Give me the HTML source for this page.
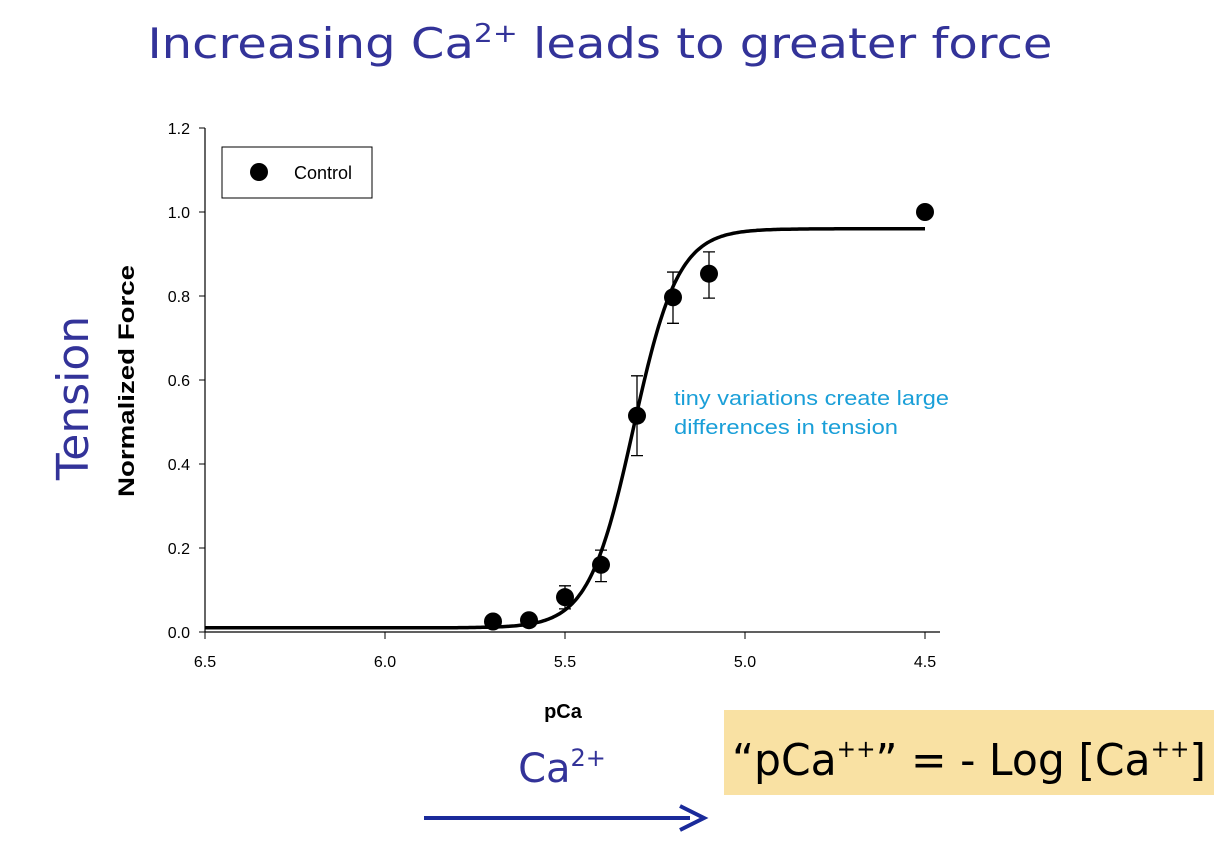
<!DOCTYPE html>
<html><head><meta charset="utf-8"><style>
html,body{margin:0;padding:0;background:#fff;width:1226px;height:848px;overflow:hidden}
svg{display:block}
</style></head><body>
<svg id="chart" width="1226" height="848" xmlns="http://www.w3.org/2000/svg">
<text x="600" y="58" text-anchor="middle" font-family="DejaVu Sans, sans-serif" font-size="42" fill="#333399" textLength="905" lengthAdjust="spacingAndGlyphs">Increasing Ca<tspan font-size="26" dy="-16">2+</tspan><tspan dy="16"> leads to greater force</tspan></text>
<text transform="translate(88,398) rotate(-90)" text-anchor="middle" font-family="DejaVu Sans, sans-serif" font-size="44" fill="#333399">Tension</text>
<g id="plot"></g>
<text transform="translate(134,381) rotate(-90)" text-anchor="middle" font-family="Liberation Sans, sans-serif" font-weight="bold" font-size="22" textLength="232" lengthAdjust="spacingAndGlyphs">Normalized Force</text>
<text x="563" y="718" text-anchor="middle" font-family="Liberation Sans, sans-serif" font-weight="bold" font-size="20">pCa</text>
<g>
<rect x="222" y="147" width="150" height="51" fill="#fff" stroke="#000" stroke-width="1"/>
<circle cx="259" cy="172" r="9" fill="#000"/>
<text x="294" y="179" font-family="Liberation Sans, sans-serif" font-size="18">Control</text>
</g>
<text font-family="Liberation Sans, sans-serif" font-size="20" fill="#1a9fd8"><tspan x="674" y="405" textLength="275" lengthAdjust="spacingAndGlyphs">tiny variations create large</tspan><tspan x="674" y="434" textLength="224" lengthAdjust="spacingAndGlyphs">differences in tension</tspan></text>
<text x="562" y="782" text-anchor="middle" font-family="DejaVu Sans, sans-serif" font-size="40" fill="#333399">Ca<tspan font-size="24" dy="-16">2+</tspan></text>
<line x1="424" y1="818" x2="690" y2="818" stroke="#1a2a9a" stroke-width="4"/>
<path d="M680,806 L704,818 L680,830" fill="none" stroke="#1a2a9a" stroke-width="4"/>
<rect x="724" y="710" width="490" height="85" fill="#f9e1a3"/>
<text x="732" y="775" font-family="DejaVu Sans, sans-serif" font-size="44" fill="#000" textLength="474" lengthAdjust="spacingAndGlyphs">“pCa<tspan font-size="24" dy="-18">++</tspan><tspan dy="18">” = - Log [Ca</tspan><tspan font-size="24" dy="-18">++</tspan><tspan dy="18">]</tspan></text>
</svg>
<script>
const pCa=[5.7,5.6,5.5,5.4,5.3,5.2,5.1,4.5];
const force=[0.025,0.028,0.083,0.16,0.515,0.797,0.853,1.0];
const errLow=[null,null,0.055,0.12,0.42,0.735,0.795,null];
const errHigh=[null,null,0.11,0.195,0.61,0.857,0.905,null];
const xTicks=[6.5,6.0,5.5,5.0,4.5];
const yTicks=[0,0.2,0.4,0.6,0.8,1.0,1.2];
const fitMin=0.01, fitMax=0.96, fitEC50=5.31, fitHill=7;

const NS="http://www.w3.org/2000/svg";
const g=document.getElementById('plot');
const X=v=>205+(6.5-v)/2*720;
const Y=v=>632-v/1.2*504;
function mk(t,a){const e=document.createElementNS(NS,t);for(const k in a)e.setAttribute(k,a[k]);g.appendChild(e);return e;}
let e=mk('line',{x1:205,y1:Y(1.2),x2:205,y2:632,stroke:'#000','stroke-width':1.2});


e=mk('line',{x1:205,y1:632,x2:X(4.5)+15,y2:632,stroke:'#000','stroke-width':1.2});


yTicks.forEach(t=>{
 e=mk('line',{x1:199,y1:Y(t),x2:205,y2:Y(t),stroke:'#000'});
 
 
 e=mk('text',{x:190,y:Y(t)+6,'text-anchor':'end','font-family':'Liberation Sans, sans-serif','font-size':16});
 e.textContent=t.toFixed(1);
 
 
});
xTicks.forEach(t=>{
 e=mk('line',{x1:X(t),y1:632,x2:X(t),y2:639,stroke:'#000'});
 
 
 e=mk('text',{x:X(t),y:667,'text-anchor':'middle','font-family':'Liberation Sans, sans-serif','font-size':16});
 e.textContent=t.toFixed(1);
 
 
});
let d='';
for(let i=0;i<=400;i++){const p=6.5-2*i/400;const f=fitMin+(fitMax-fitMin)/(1+Math.pow(10,fitHill*(p-fitEC50)));d+=(i?'L':'M')+X(p).toFixed(1)+','+Y(f).toFixed(1);}
e=mk('path',{d:d,fill:'none',stroke:'#000','stroke-width':3.5});


pCa.forEach((p,i)=>{
 if(errLow[i]!=null){
  const x=X(p);
  e=mk('path',{d:`M${x},${Y(errLow[i])}L${x},${Y(errHigh[i])}M${x-6},${Y(errLow[i])}L${x+6},${Y(errLow[i])}M${x-6},${Y(errHigh[i])}L${x+6},${Y(errHigh[i])}`,stroke:'#000','stroke-width':1.3,fill:'none'});
  
  
 }
 e=mk('circle',{cx:X(p),cy:Y(force[i]),r:9,fill:'#000'});
 
 
});
</script>
</body></html>
